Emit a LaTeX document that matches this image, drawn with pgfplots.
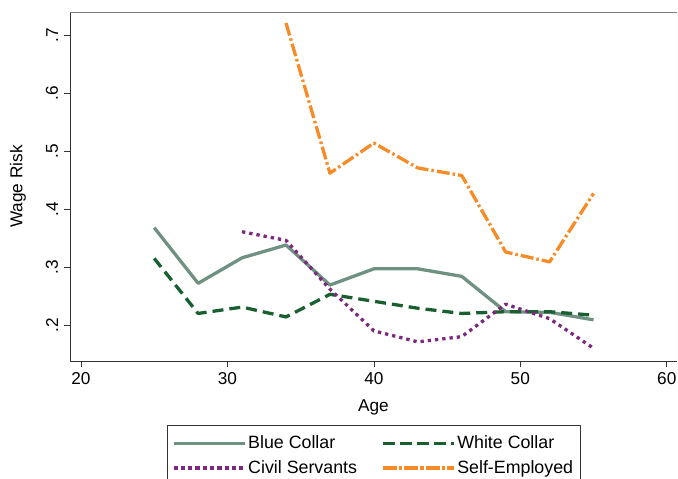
\documentclass[border=0pt]{standalone}
\usepackage{pgfplots}
\pgfplotsset{compat=1.18}
\usepackage{fontspec}
\setmainfont{Liberation Sans}
\definecolor{bluec}{RGB}{111,145,130}
\definecolor{whitec}{RGB}{26,95,48}
\definecolor{civilc}{RGB}{123,40,125}
\definecolor{selfc}{RGB}{245,140,40}
\newcommand{\fs}{\fontsize{17.2bp}{20bp}\selectfont}
\newcommand{\fsl}{\fontsize{17.8bp}{20bp}\selectfont}
\begin{document}
\fs
\begin{tikzpicture}
\path[use as bounding box] (0,0) rectangle (678bp,479bp);
\begin{axis}[
  at={(70bp,118bp)}, anchor=south west,
  width=607bp, height=349bp, scale only axis,
  xmin=19.25, xmax=60.7, ymin=0.138, ymax=0.74,
  axis lines*=left,
  axis line style={-, black!80, line width=0.8bp},
  xtick={20,30,40,50,60}, xticklabels={20,30,40,50,60},
  ytick={0.2,0.3,0.4,0.5,0.6,0.7},
  yticklabels={.2,.3,.4,.5,.6,.7},
  /pgf/number format/assume math mode=true,
  tick align=outside, major tick length=6bp,
  tick style={black!80, line width=0.6bp},
  ticklabel style={font=\fs},
  yticklabel style={rotate=90, anchor=south},
  xlabel={Age}, ylabel={Wage Risk},
  every axis x label/.style={at={(axis description cs:0.5,0)}, anchor=center, yshift=-46bp, font=\fs},
  every axis y label/.style={at={(axis description cs:0,0.5)}, xshift=-52bp, rotate=90, anchor=center, font=\fs},
  legend columns=2,
  legend style={at={(axis description cs:0.5,-0.1834)}, anchor=north,
    draw=black!80, line width=0.6bp, font=\fsl,
    /tikz/every even column/.append style={column sep=22bp},
    inner xsep=5bp, inner ysep=8.5bp, row sep=5bp},
  legend cell align=left,
  legend image code/.code={\draw[#1] (0bp,0bp) -- (65bp,0bp); \path (-1bp,0bp) -- (70bp,0bp);},
  line join=round,
]
\addplot[bluec, line width=3.3bp] coordinates {
 (25,0.368) (28,0.272) (31,0.316) (34,0.338) (37,0.269) (40,0.297) (43,0.297) (46,0.284) (49,0.223) (52,0.222) (55,0.209)};
\addlegendentry{Blue Collar}
\addplot[whitec, line width=3.3bp, dash pattern=on 11bp off 6bp] coordinates {
 (25,0.315) (28,0.220) (31,0.231) (34,0.214) (37,0.253) (40,0.241) (43,0.229) (46,0.220) (49,0.223) (52,0.223) (55,0.217)};
\addlegendentry{White Collar}
\addplot[civilc, line width=3.3bp, dash pattern=on 3.3bp off 4bp] coordinates {
 (31,0.361) (34,0.346) (37,0.262) (40,0.190) (43,0.171) (46,0.180) (49,0.236) (52,0.211) (55,0.160)};
\addlegendentry{Civil Servants}
\addplot[selfc, line width=3.3bp, dash pattern=on 13bp off 3bp on 2.5bp off 3bp] coordinates {
 (34,0.721) (37,0.462) (40,0.514) (43,0.471) (46,0.458) (49,0.326) (52,0.309) (55,0.427)};
\addlegendentry{Self{-}Employed}
\draw[black!50, line width=0.8bp] (rel axis cs:0,1) -- (rel axis cs:1,1);
\draw[black!8, line width=0.6bp] (rel axis cs:1,0) -- (rel axis cs:1,1);
\end{axis}
\end{tikzpicture}
\end{document}
